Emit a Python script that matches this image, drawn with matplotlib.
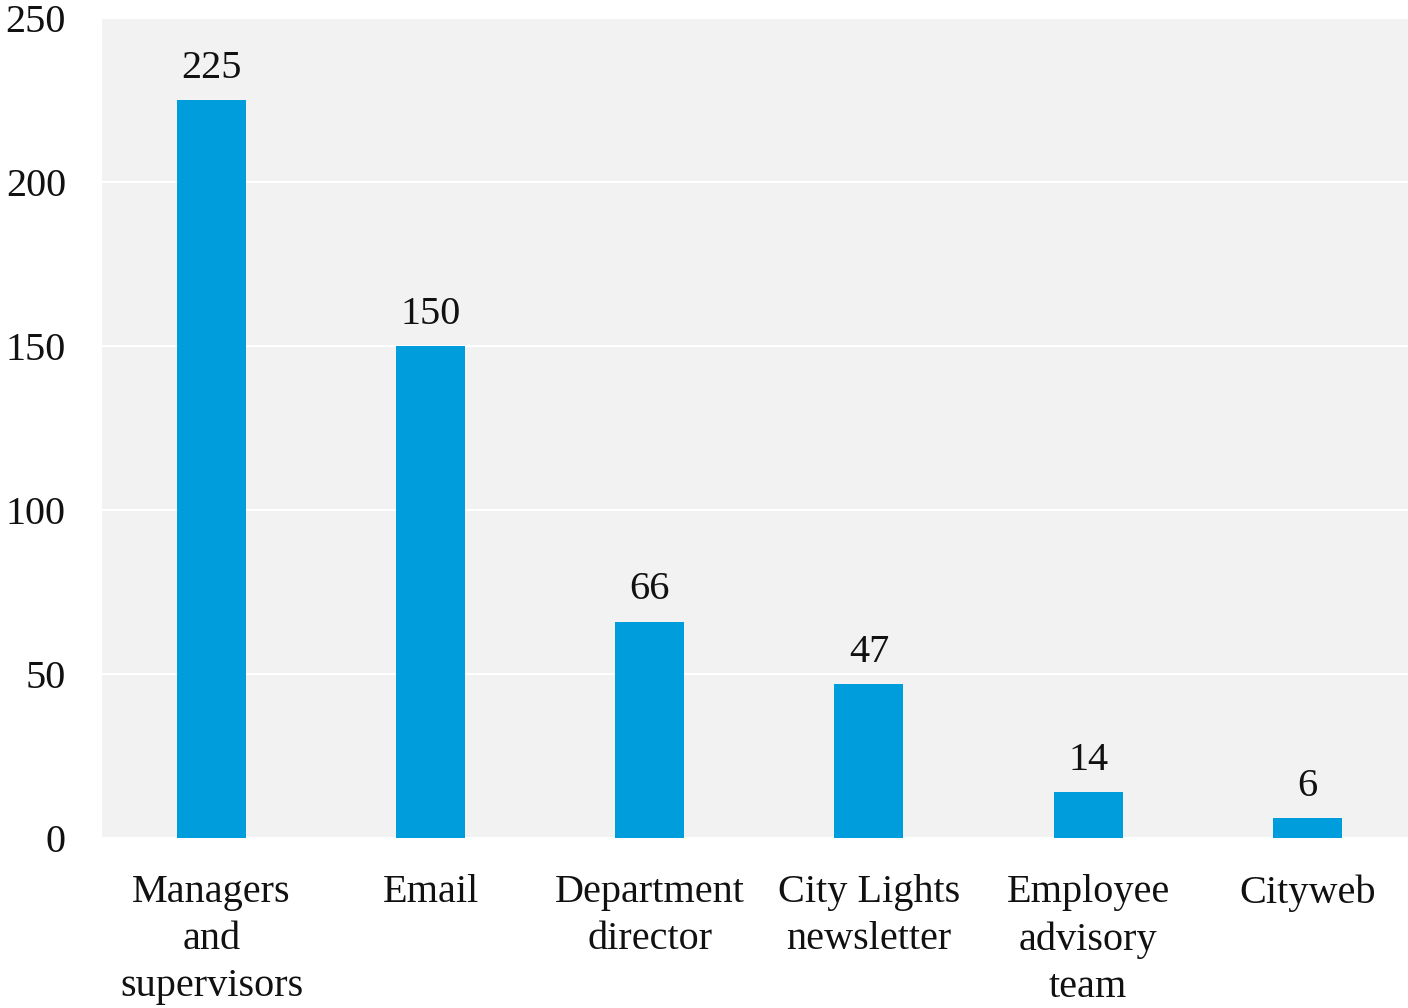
import matplotlib
matplotlib.use('Agg')
from matplotlib import pyplot as plt

plt.rcParams['font.family'] = ['Liberation Serif', 'DejaVu Serif']

# chart data
categories = ['Managers\nand\nsupervisors', 'Email', 'Department\ndirector',
              'City Lights\nnewsletter', 'Employee\nadvisory\nteam', 'Cityweb']
counts = [225, 150, 66, 47, 14, 6]
y_ticks = [0, 50, 100, 150, 200, 250]

fig = plt.figure(figsize=(14.08, 10.08), dpi=100)
ax = fig.add_axes([102/1408, 170/1008, 1306/1408, 820/1008])
ax.set_facecolor('#F2F2F2')

xs = list(range(len(categories)))
ax.bar(xs, counts, width=0.315, color='#009DDC', zorder=3)
for x, v in zip(xs, counts):
    ax.text(x, v + 4, str(v), ha='center', va='bottom', fontsize=29, color='#111111')

ax.set_xlim(-0.5, 5.46)
ax.set_ylim(0, 250)
ax.set_yticks(y_ticks)
ax.set_yticklabels([str(t) for t in y_ticks], fontsize=29)
ax.set_xticks(xs)
ax.set_xticklabels(categories, fontsize=29, linespacing=1.36)
ax.tick_params(axis='both', length=0, colors='#111111')
ax.tick_params(axis='y', pad=26)
ax.tick_params(axis='x', pad=26)
ax.grid(axis='y', color='white', linewidth=1.5, zorder=1)
for s in ax.spines.values():
    s.set_visible(False)

fig.savefig('out.png', dpi=100)
